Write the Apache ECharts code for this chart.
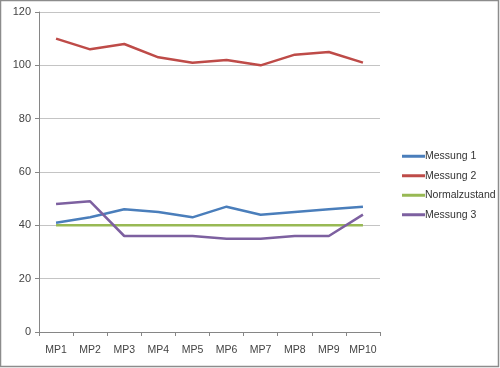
<!DOCTYPE html>
<html><head><meta charset="utf-8">
<script src="https://cdn.jsdelivr.net/npm/echarts@6/dist/echarts.min.js"></script>
<style>html,body{margin:0;padding:0;background:#fff}#c{width:500px;height:368px}</style>
</head><body><div id="c"></div>
<script>
var categories = ['MP1','MP2','MP3','MP4','MP5','MP6','MP7','MP8','MP9','MP10'];
var messung1 = [41,43,46,45,43,47,44,45,46,47];
var messung2 = [110,106,108,103,101,102,100,104,105,101];
var normalzustand = [40,40,40,40,40,40,40,40,40,40];
var messung3 = [48,49,36,36,36,35,35,36,36,44];
var yTicks = {min:0, max:120, interval:20};

var chart = echarts.init(document.getElementById('c'));
function s(name, data, color){
  return {name:name, type:'line', data:data, symbol:'none', smooth:false,
    lineStyle:{color:color, width:2.5}, itemStyle:{color:color}, animation:false};
}
chart.setOption({
  animation:false,
  textStyle:{fontFamily:'Liberation Sans'},
  graphic:[{type:'rect', shape:{x:0.5,y:0.5,width:498,height:366}, style:{fill:'none', stroke:'#8c8c8c', lineWidth:1.5}, silent:true}],
  grid:{left:39, right:120, top:12, bottom:36},
  legend:{orient:'vertical', left:397, top:145, itemWidth:23, itemHeight:3, itemGap:7, icon:'rect',
    textStyle:{fontSize:10.5, color:'#333', padding:[0,0,0,-5], lineHeight:12.5},
    data:['Messung 1','Messung 2','Normalzustand','Messung 3']},
  xAxis:{type:'category', data:categories, boundaryGap:true,
    axisLine:{lineStyle:{color:'#868686'}},
    axisTick:{show:true, length:4, lineStyle:{color:'#868686'}},
    axisLabel:{color:'#444', fontSize:10.5, margin:13, interval:0}},
  yAxis:{type:'value', min:yTicks.min, max:yTicks.max, interval:yTicks.interval,
    axisLine:{show:true, lineStyle:{color:'#868686'}},
    axisTick:{show:true, inside:false, length:4, lineStyle:{color:'#868686'}},
    splitLine:{lineStyle:{color:'#c4c4c4'}},
    axisLabel:{color:'#444', fontSize:11, margin:8}},
  series:[
    s('Messung 1', messung1, '#4a7ebb'),
    s('Messung 2', messung2, '#be4b48'),
    s('Normalzustand', normalzustand, '#98b954'),
    s('Messung 3', messung3, '#7d60a0')
  ]
});
</script></body></html>
